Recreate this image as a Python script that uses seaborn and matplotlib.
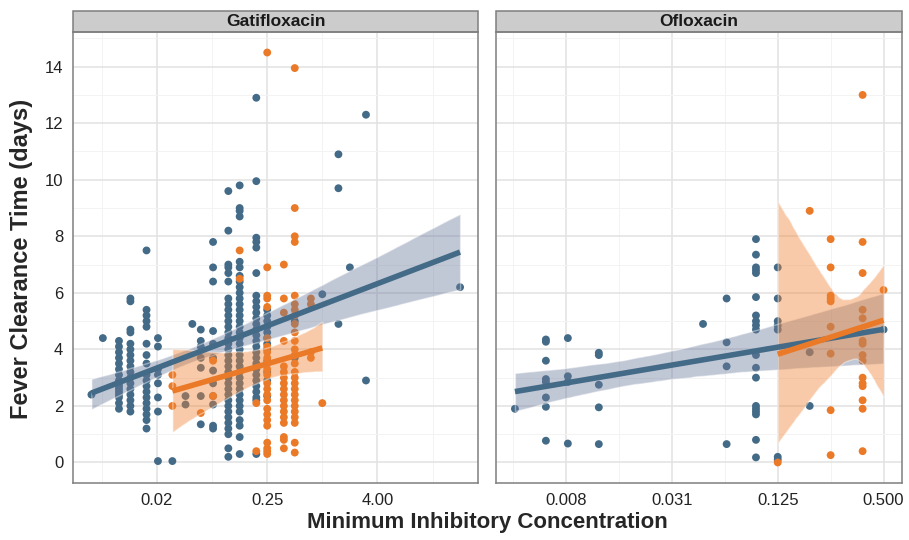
import numpy as np
import pandas as pd
import matplotlib
matplotlib.use("Agg")
import matplotlib.pyplot as plt
from matplotlib.patches import Rectangle
import seaborn as sns

BLUE = "#436A87"
ORANGE = "#EA7A28"
BLUE_BAND = "#6B7A9C"
ORANGE_BAND = "#F08232"

drugs = ["Gatifloxacin", "Ofloxacin"]
groups = ["blue", "orange"]

gati_ticks = [0.015625, 0.25, 4.0]
gati_tick_labels = ["0.02", "0.25", "4.00"]
oflo_ticks = [0.0078125, 0.03125, 0.125, 0.5]
oflo_tick_labels = ["0.008", "0.031", "0.125", "0.500"]

# fever clearance time (days) per MIC
gati_blue = {
    0.003: [2.4],
    0.004: [4.4],
    0.006: [4.3, 4.1, 3.9, 3.7, 3.5, 3.3, 3.1, 2.9, 2.8, 2.7, 2.6, 2.5, 2.4, 2.3, 2.1, 1.9],
    0.008: [5.8, 5.7, 4.7, 4.6, 4.2, 4.0, 3.8, 3.6, 3.4, 3.2, 3.0, 2.8, 2.6, 2.4, 2.2, 2.0, 1.8],
    0.012: [7.5, 5.4, 5.2, 5.0, 4.8, 4.2, 3.8, 3.5, 3.1, 2.9, 2.7, 2.5, 2.3, 2.1, 1.9, 1.7, 1.5, 1.2],
    0.016: [4.4, 4.1, 3.3, 3.1, 2.8, 2.3, 1.8, 0.05],
    0.023: [0.05],
    0.032: [2.35, 2.05],
    0.038: [4.9],
    0.047: [4.7, 4.3, 4.1, 3.7, 3.35, 2.35, 1.35],
    0.064: [7.8, 6.9, 6.4, 4.65, 4.2, 3.7, 3.25, 2.8, 2.35, 2.05, 1.3, 1.2],
    0.094: [9.6, 8.2, 7.0, 6.9, 6.7, 6.4, 5.8, 5.6, 5.4, 5.2, 5.0, 4.8, 4.6, 4.4, 4.2, 4.0,
            3.8, 3.6, 3.4, 3.2, 3.0, 2.8, 2.6, 2.4, 2.2, 2.0, 1.8, 1.6, 1.4, 1.2, 1.0, 0.5, 0.2],
    0.125: [9.8, 9.0, 8.9, 8.7, 7.1, 6.9, 6.6, 6.4, 6.2, 6.0, 5.8, 5.6, 5.4, 5.2, 5.0, 4.8,
            4.6, 4.4, 4.2, 4.0, 3.8, 3.6, 3.4, 3.2, 3.0, 2.8, 2.6, 2.4, 2.2, 2.0, 1.8, 1.5,
            1.3, 0.9, 0.3],
    0.19: [12.9, 9.95, 7.95, 7.8, 7.6, 6.7, 5.9, 5.7, 5.5, 5.3, 5.1, 4.9, 4.7, 4.5, 4.3,
           4.1, 3.9, 3.7, 3.5, 3.3, 3.1, 2.9, 2.7, 2.5, 2.3, 2.2, 0.3],
    0.25: [5.4, 5.2, 5.0, 4.8, 4.6, 4.4, 4.2, 4.0, 3.6, 3.2, 2.9, 2.35],
    0.5: [5.0, 3.7],
    1.0: [5.95],
    1.5: [10.9, 9.7, 4.9],
    2.0: [6.9],
    3.0: [12.3, 2.9],
    32.0: [6.2],
}
gati_orange = {
    0.023: [3.1, 2.7, 2.0],
    0.047: [1.75],
    0.064: [3.6, 2.35],
    0.125: [7.5, 6.5],
    0.19: [2.1, 0.4],
    0.25: [14.5, 6.9, 5.9, 5.8, 5.5, 4.4, 4.1, 3.9, 3.7, 3.5, 3.3, 3.1, 2.8, 2.6, 2.4, 2.2,
           1.9, 1.7, 1.5, 1.3, 0.7, 0.5, 0.4, 0.3],
    0.38: [7.0, 5.8, 5.3, 4.3, 3.4, 3.2, 3.0, 2.8, 2.6, 2.4, 2.2, 2.0, 1.8, 1.6, 1.4, 0.9,
           0.8, 0.5],
    0.5: [13.95, 9.0, 8.0, 7.8, 5.9, 5.6, 5.4, 5.2, 4.9, 4.6, 4.3, 4.0, 3.8, 3.5, 3.2, 3.0,
          2.8, 2.6, 2.4, 2.2, 2.0, 1.8, 1.6, 1.4, 0.7, 0.35],
    0.75: [5.8, 5.6, 3.9, 3.7],
    1.0: [2.1],
}
oflo_blue = {
    0.004: [1.9],
    0.006: [4.35, 4.27, 3.6, 2.95, 2.85, 2.3, 1.97, 0.77],
    0.008: [4.4, 3.05, 2.85, 0.67],
    0.012: [3.88, 3.8, 2.75, 1.95, 0.65],
    0.047: [4.9],
    0.064: [5.8, 4.25, 3.4, 0.65],
    0.094: [7.9, 7.35, 6.9, 6.8, 6.7, 5.85, 5.2, 5.0, 4.85, 4.7, 3.8, 3.35, 3.0, 2.0, 1.9,
            1.8, 1.7, 0.8, 0.18],
    0.125: [6.9, 5.8, 5.0, 4.85, 4.7, 0.2, 0.1],
    0.19: [3.9, 2.0],
    0.5: [4.7],
}
oflo_orange = {
    0.125: [0.0],
    0.19: [8.9],
    0.25: [7.9, 6.9, 5.9, 5.8, 5.7, 4.8, 3.85, 1.85, 0.26],
    0.38: [13.0, 7.8, 6.7, 5.4, 5.1, 4.3, 4.2, 3.8, 3.6, 3.0, 2.8, 2.7, 2.2, 1.9, 0.4],
    0.5: [6.1],
}

rows = []
for drug, grp, data in [("Gatifloxacin", "blue", gati_blue), ("Gatifloxacin", "orange", gati_orange),
                        ("Ofloxacin", "blue", oflo_blue), ("Ofloxacin", "orange", oflo_orange)]:
    for mic, days in data.items():
        for d in days:
            rows.append((drug, grp, mic, d))
df = pd.DataFrame(rows, columns=["drug", "group", "mic", "days"])
df["log2_mic"] = np.log2(df["mic"])

sns.set_style("white")
plt.rcParams["font.family"] = ["Liberation Sans", "DejaVu Sans"]

fig, axes = plt.subplots(1, 2, figsize=(9.09, 5.4), dpi=100, sharey=True)
fig.subplots_adjust(left=0.0803, right=0.9923, bottom=0.1056, top=0.9407, wspace=0.0444)

ymin, ymax = df["days"].min(), df["days"].max()
ypad = 0.05 * (ymax - ymin)

for ax, drug, ticks, labels in zip(axes, drugs, [gati_ticks, oflo_ticks],
                                   [gati_tick_labels, oflo_tick_labels]):
    sub = df[df["drug"] == drug]
    sns.scatterplot(data=sub, x="log2_mic", y="days", hue="group", hue_order=groups,
                    palette=[BLUE, ORANGE], s=32, linewidth=0, legend=False, ax=ax, zorder=2)
    for grp, col, band in [("blue", BLUE, BLUE_BAND), ("orange", ORANGE, ORANGE_BAND)]:
        g = sub[sub["group"] == grp]
        sns.regplot(data=g, x="log2_mic", y="days", scatter=False, color=col, ax=ax,
                    seed=1, n_boot=2000,
                    line_kws=dict(lw=4.0, zorder=4, solid_capstyle="butt"))
        poly = ax.collections[-1]
        poly.set_facecolor(band)
        poly.set_alpha(0.42)
        poly.set_zorder(3)

    lo, hi = sub["log2_mic"].min(), sub["log2_mic"].max()
    pad = 0.05 * (hi - lo)
    ax.set_xlim(lo - pad, hi + pad)
    ax.set_ylim(ymin - ypad, ymax + ypad)

    major = np.log2(ticks)
    step = major[1] - major[0]
    minor = np.arange(major[0] - step / 2, hi + pad, step)
    ax.set_xticks(major)
    ax.set_xticklabels(labels)
    ax.set_xticks(minor, minor=True)
    ax.set_yticks(np.arange(0, 15, 2))
    ax.set_yticks(np.arange(1, 16, 2), minor=True)
    ax.grid(which="major", color="#E2E2E2", lw=1.1)
    ax.grid(which="minor", color="#F3F3F3", lw=0.7)
    ax.set_axisbelow(True)
    ax.tick_params(which="minor", length=0)
    ax.tick_params(which="major", length=4, width=1, color="#555555", labelsize=12,
                   labelcolor="#222222", pad=3)
    ax.set_xlabel("")
    ax.set_ylabel("")
    for sp in ax.spines.values():
        sp.set_color("#7F7F7F")
        sp.set_linewidth(1.1)

    strip_h = 21 / 451
    ax.add_patch(Rectangle((0, 1), 1, strip_h, transform=ax.transAxes, facecolor="#CCCCCC",
                           edgecolor="#7F7F7F", lw=1.1, clip_on=False))
    ax.text(0.5, 1 + strip_h / 2, drug, transform=ax.transAxes, ha="center", va="center",
            fontsize=12.5, fontweight="bold", color="#1A1A1A")

axes[1].tick_params(axis="y", which="both", length=0, labelleft=False)

fig.text(0.536, 0.033, "Minimum Inhibitory Concentration", ha="center", va="center",
         fontsize=16, fontweight="bold")
fig.text(0.024, 0.52, "Fever Clearance Time (days)", ha="center", va="center",
         rotation=90, fontsize=17, fontweight="bold")

fig.savefig("out.png", dpi=100)
